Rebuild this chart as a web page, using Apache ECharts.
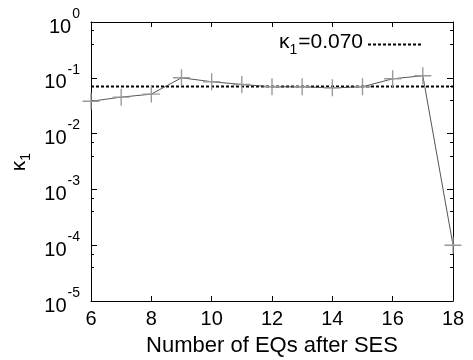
<!DOCTYPE html>
<html>
<head>
<meta charset="utf-8"/>
<script src="https://cdn.jsdelivr.net/npm/echarts@6/dist/echarts.min.js"></script>
<style>
  html, body { margin: 0; padding: 0; background: #fff; }
  #main { width: 473px; height: 360px; }
</style>
</head>
<body>
<div id="main"></div>
<script type="text/javascript">
// number of EQs after SES
var eqCounts = [6, 7, 8, 9, 10, 11, 12, 13, 14, 15, 16, 17, 18];
// kappa_1 values
var kappaValues = [0.038, 0.045, 0.051, 0.100, 0.085, 0.076, 0.069, 0.069, 0.066, 0.069, 0.096, 0.109, 0.0001];
// reference level
var kappaRef = 0.070;
var xTicks = [6, 8, 10, 12, 14, 16, 18];
var yMin = 1e-5, yMax = 1;

var font = 'Liberation Sans, Arial, Helvetica, sans-serif';

var plusSymbol = 'path://M0,4.6H10V5.4H0Z M4.6,0H5.4V10H4.6Z';

var supRich = {
  b: { fontSize: 20, fontFamily: font, color: '#000', lineHeight: 30, verticalAlign: 'bottom' },
  s: { fontSize: 14, fontFamily: font, color: '#000', lineHeight: 30, verticalAlign: 'top', padding: [0, 0, 0, 1] }
};

function expLabel(v) {
  var e = Math.round(Math.log10(v));
  return '{b|10}{s|' + e + '}';
}

var kRich = {
  k: { fontSize: 21, fontFamily: font, color: '#000', lineHeight: 25, verticalAlign: 'top' },
  sub: { fontSize: 14, fontFamily: font, color: '#000', lineHeight: 25, verticalAlign: 'bottom', padding: [0, 1, 0, 0] }
};

var myChart = echarts.init(document.getElementById('main'));

var option = {
  animation: false,
  backgroundColor: '#fff',
  grid: { left: 91, right: 20, top: 22, bottom: 59, containLabel: false, outerBoundsMode: 'none' },
  legend: {
    data: ['ref'],
    right: 45,
    top: 27,
    align: 'right',
    itemWidth: 54,
    itemHeight: 10,
    itemGap: 17,
    itemStyle: { color: 'rgba(0,0,0,0)', borderWidth: 0 },
    formatter: function () { return '{k|κ}{sub|1}{k|=0.070}'; },
    textStyle: { rich: kRich }
  },
  xAxis: [{
    type: 'value',
    min: xTicks[0],
    max: xTicks[xTicks.length - 1],
    interval: 2,
    name: 'Number of EQs after SES',
    nameLocation: 'middle',
    nameGap: 34,
    nameTextStyle: { fontSize: 22, fontFamily: font, color: '#000' },
    axisLine: { onZero: false, lineStyle: { color: '#000', width: 1 } },
    axisTick: { inside: true, length: 5, lineStyle: { color: '#000' } },
    axisLabel: { fontSize: 20, fontFamily: font, color: '#000', margin: 8 },
    splitLine: { show: false }
  }, {
    type: 'value',
    position: 'top',
    min: xTicks[0],
    max: xTicks[xTicks.length - 1],
    interval: 2,
    axisLine: { lineStyle: { color: '#000', width: 1 } },
    axisTick: { inside: true, length: 5, lineStyle: { color: '#000' } },
    axisLabel: { show: false },
    splitLine: { show: false }
  }],
  yAxis: [{
    type: 'log',
    logBase: 10,
    min: yMin,
    max: yMax,
    name: '{k|κ}{sub|1}',
    nameLocation: 'middle',
    nameRotate: 90,
    nameGap: 56,
    nameTextStyle: { rich: kRich },
    axisLine: { show: true, lineStyle: { color: '#000', width: 1 } },
    axisTick: { inside: true, length: 6, lineStyle: { color: '#000' } },
    minorTick: { show: true, splitNumber: 3, length: 3, lineStyle: { color: '#000' } },
    axisLabel: {
      margin: 11,
      formatter: expLabel,
      rich: supRich
    },
    splitLine: { show: false }
  }, {
    type: 'log',
    logBase: 10,
    min: yMin,
    max: yMax,
    position: 'right',
    axisLine: { show: true, lineStyle: { color: '#000', width: 1 } },
    axisTick: { inside: true, length: 6, lineStyle: { color: '#000' } },
    minorTick: { show: true, splitNumber: 3, length: 3, lineStyle: { color: '#000' } },
    axisLabel: { show: false },
    splitLine: { show: false }
  }],
  series: [{
    name: 'kappa',
    type: 'line',
    data: eqCounts.map(function (x, i) { return [x, kappaValues[i]]; }),
    symbol: plusSymbol,
    symbolSize: 17,
    showAllSymbol: true,
    lineStyle: { color: '#555', width: 1 },
    itemStyle: { color: '#999' },
    z: 3
  }, {
    name: 'ref',
    type: 'line',
    data: [[xTicks[0], kappaRef], [xTicks[xTicks.length - 1], kappaRef]],
    symbol: 'none',
    lineStyle: { color: '#000', width: 2, type: [3, 2] },
    itemStyle: { color: '#000' },
    z: 2
  }]
};

myChart.setOption(option);
</script>
</body>
</html>
